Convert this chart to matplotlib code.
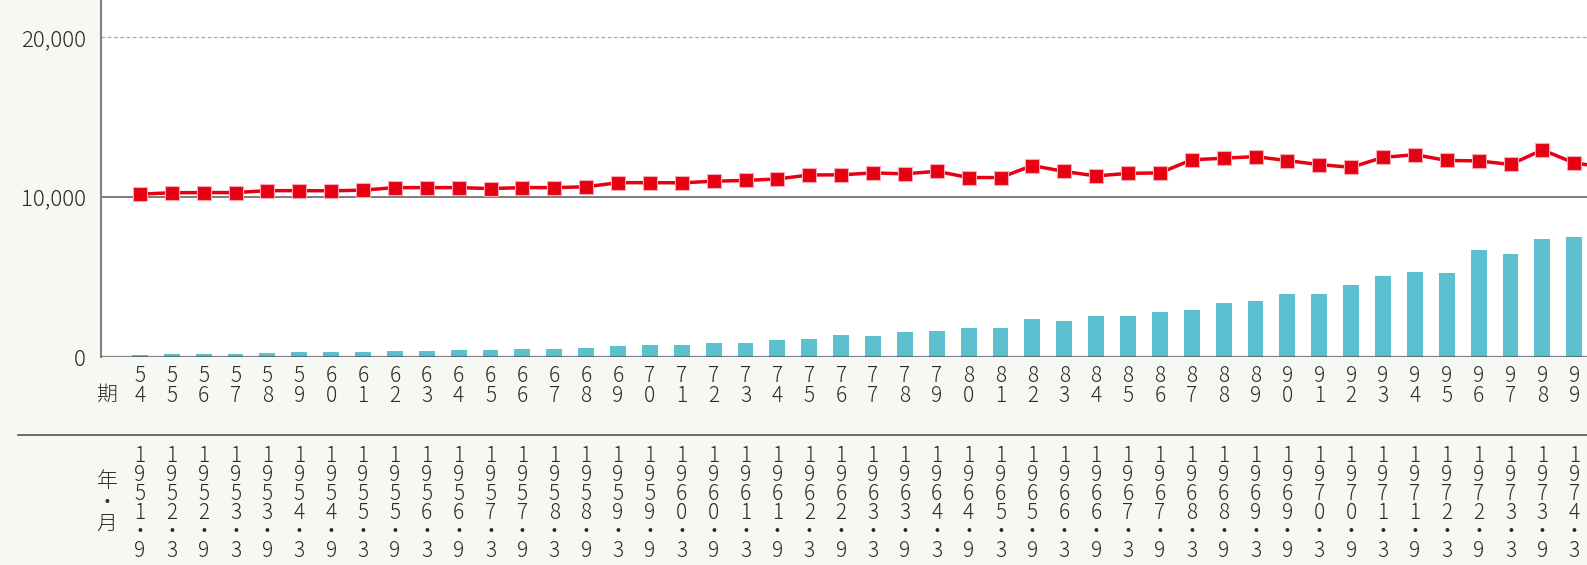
import matplotlib
matplotlib.use("Agg")
import matplotlib.pyplot as plt
import numpy as np
from matplotlib import transforms
from matplotlib.lines import Line2D

# Periods (期) and their closing year / month
periods = ["54", "55", "56", "57", "58", "59", "60", "61", "62", "63", "64", "65",
           "66", "67", "68", "69", "70", "71", "72", "73", "74", "75", "76", "77",
           "78", "79", "80", "81", "82", "83", "84", "85", "86", "87", "88", "89",
           "90", "91", "92", "93", "94", "95", "96", "97", "98", "99"]
year_month = ["1951・9", "1952・3", "1952・9", "1953・3", "1953・9", "1954・3",
              "1954・9", "1955・3", "1955・9", "1956・3", "1956・9", "1957・3",
              "1957・9", "1958・3", "1958・9", "1959・3", "1959・9", "1960・3",
              "1960・9", "1961・3", "1961・9", "1962・3", "1962・9", "1963・3",
              "1963・9", "1964・3", "1964・9", "1965・3", "1965・9", "1966・3",
              "1966・9", "1967・3", "1967・9", "1968・3", "1968・9", "1969・3",
              "1969・9", "1970・3", "1970・9", "1971・3", "1971・9", "1972・3",
              "1972・9", "1973・3", "1973・9", "1974・3"]

# bar series (teal)
bar_values = [100, 200, 200, 200, 270, 330, 330, 330, 400, 400, 460, 460, 520, 520, 590,
              670, 730, 730, 860, 860, 1040, 1100, 1360, 1290, 1540, 1600, 1790, 1790, 2360, 2230,
              2540, 2540, 2790, 2920, 3350, 3480, 3920, 3920, 4480, 5100, 5290, 5230, 6670, 6420,
              7360, 7480]
# line series (red), last point lies just past the right edge
line_values = [10190, 10280, 10290, 10290, 10410, 10410, 10400, 10440, 10600, 10600, 10600,
               10540, 10600, 10600, 10650, 10910, 10910, 10900, 11000, 11050, 11140, 11390,
               11400, 11520, 11460, 11620, 11230, 11230, 11980, 11610, 11330, 11490, 11520,
               12340, 12440, 12540, 12290, 12040, 11870, 12490, 12660, 12300, 12270, 12050,
               12960, 12140, 11870]

y_ticks = [0, 10000, 20000]

BG = "#f6f8f4"
TXT = "#2b2b2b"
W, H = 1587, 565

plt.rcParams['font.family'] = ['Noto Sans CJK JP', 'DejaVu Sans']
plt.rcParams['font.weight'] = 'light'

fig = plt.figure(figsize=(W / 100, H / 100), dpi=100, facecolor=BG)
ax = fig.add_axes([101 / W, 1 - 357 / H, 1 - 101 / W, 357 / H])
ax.set_facecolor("white")

xb = np.arange(len(bar_values))
xl = np.arange(len(line_values))
ax.bar(xb, bar_values, width=0.5, color="#5bc0cf", zorder=2)
ax.plot(xl, line_values, color="#e60012", lw=2.5, marker="s", ms=9.5,
        mec="#f6a9b3", mew=0.8, zorder=5)

# grid lines
ax.axhline(20000, color="#aaaaaa", lw=0.9, ls=(0, (3, 2)), zorder=1)
ax.axhline(10000, color="#666666", lw=1.2, zorder=1)
ax.axhline(0, color="#555555", lw=1.6, alpha=0.75, zorder=3)

ax.set_xlim(-1.22, 45.4)
ax.set_ylim(0, 22340)
ax.set_xticks([])
ax.set_yticks(y_ticks)
ax.set_yticklabels([f"{v:,}" for v in y_ticks])
ax.tick_params(axis="y", length=0, pad=11, labelsize=16, labelcolor=TXT)
for s in ["top", "right", "bottom"]:
    ax.spines[s].set_visible(False)
ax.spines["left"].set_color("#808080")
ax.spines["left"].set_linewidth(1.5)

# labels under the plot, placed by data x and figure y
trans = transforms.blended_transform_factory(ax.transData, fig.transFigure)
for i, p in enumerate(periods):
    for k, ch in enumerate(p):
        ax.text(i, 1 - (376 + k * 20) / H, ch, transform=trans, ha="center",
                va="center", fontsize=15, color=TXT)
for i, ym in enumerate(year_month):
    for k, ch in enumerate(ym):
        ax.text(i, 1 - (456 + k * 19) / H, ch, transform=trans, ha="center",
                va="center", fontsize=15, color=TXT)

fig.text(107 / W, 1 - 395 / H, "期", ha="center", va="center", fontsize=15, color=TXT)
for ch, yp in zip("年・月", [481, 503, 524]):
    fig.text(107 / W, 1 - yp / H, ch, ha="center", va="center", fontsize=15, color=TXT)

# separator between period row and date rows
fig.add_artist(Line2D([18 / W, 1], [1 - 435 / H, 1 - 435 / H], color="#555555",
                      lw=1.2, transform=fig.transFigure))

plt.savefig("out.png", dpi=100, facecolor=BG)
plt.close()
